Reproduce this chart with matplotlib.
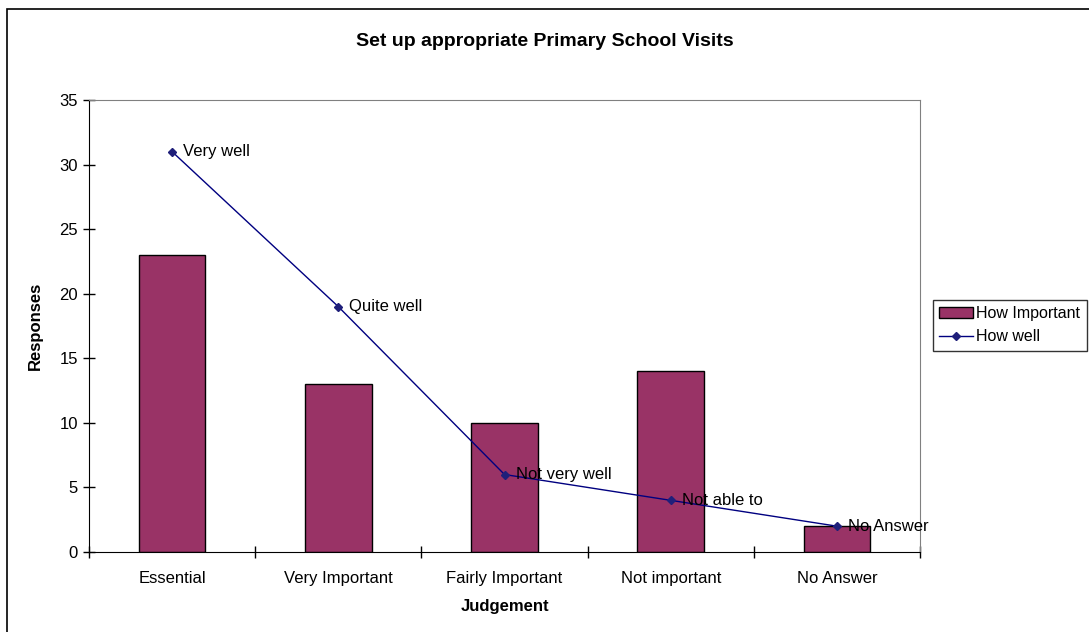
import matplotlib
matplotlib.use("Agg")
from matplotlib import pyplot as plt
from matplotlib.patches import Rectangle
import numpy as np

plt.rcParams['font.family'] = ['Liberation Sans', 'DejaVu Sans']

categories = ["Essential", "Very Important", "Fairly Important", "Not important", "No Answer"]
how_important = [23, 13, 10, 14, 2]
how_well = [31, 19, 6, 4, 2]
well_labels = ["Very well", "Quite well", "Not very well", "Not able to", "No Answer"]

fig = plt.figure(figsize=(10.89, 6.32), dpi=100)
ax = fig.add_axes([89 / 1089, 80 / 632, 831 / 1089, 452 / 632])

x = np.arange(len(categories))
bars = ax.bar(x, how_important, width=0.4, color="#993366", edgecolor="black", linewidth=1,
              label="How Important", zorder=2)
line, = ax.plot(x, how_well, color="#000080", marker="D", markersize=4.5, linewidth=1,
                markerfacecolor="#1f1f7a", markeredgecolor="#1f1f7a",
                label="How well", zorder=3)
for xi, yi, lab in zip(x, how_well, well_labels):
    ax.annotate(lab, (xi, yi), xytext=(8, 0), textcoords="offset points",
                va="center", ha="left", fontsize=12, zorder=4)

ax.set_xlim(-0.5, 4.5)
ax.set_ylim(0, 35)
ax.set_yticks(range(0, 36, 5))
ax.set_xticks(x)
ax.set_xticklabels(categories, fontsize=12)
ax.set_xticks(np.arange(-0.5, 5, 1), minor=True)
ax.tick_params(axis="x", which="major", length=0, pad=14)
ax.tick_params(axis="x", which="minor", direction="inout", length=9, width=1)
ax.tick_params(axis="y", direction="inout", length=9, width=1, labelsize=12)

for s in ["top", "right"]:
    ax.spines[s].set_color("#808080")
for s in ["left", "bottom"]:
    ax.spines[s].set_color("black")

ax.set_xlabel("Judgement", fontsize=12, fontweight="bold", labelpad=9)
ax.set_ylabel("Responses", fontsize=12, fontweight="bold", labelpad=12)
fig.text(0.5, 1 - 42 / 632, "Set up appropriate Primary School Visits",
         ha="center", va="center", fontsize=14, fontweight="bold")

leg = ax.legend([bars, line], ["How Important", "How well"],
                loc="upper left", bbox_to_anchor=(933 / 1089, 1 - 300 / 632),
                bbox_transform=fig.transFigure, fontsize=11.5, frameon=True,
                fancybox=False, borderaxespad=0, handlelength=2.1,
                borderpad=0.4, labelspacing=0.5, handletextpad=0.2)
leg.get_frame().set_edgecolor("black")
leg.get_frame().set_linewidth(1)

# outer chart border
fig.patches.append(Rectangle((7 / 1089, -0.1), 1.2, 1 - 9 / 632 + 0.1,
                             transform=fig.transFigure, fill=False,
                             edgecolor="black", linewidth=1.2))

fig.savefig("out.png", dpi=100)
